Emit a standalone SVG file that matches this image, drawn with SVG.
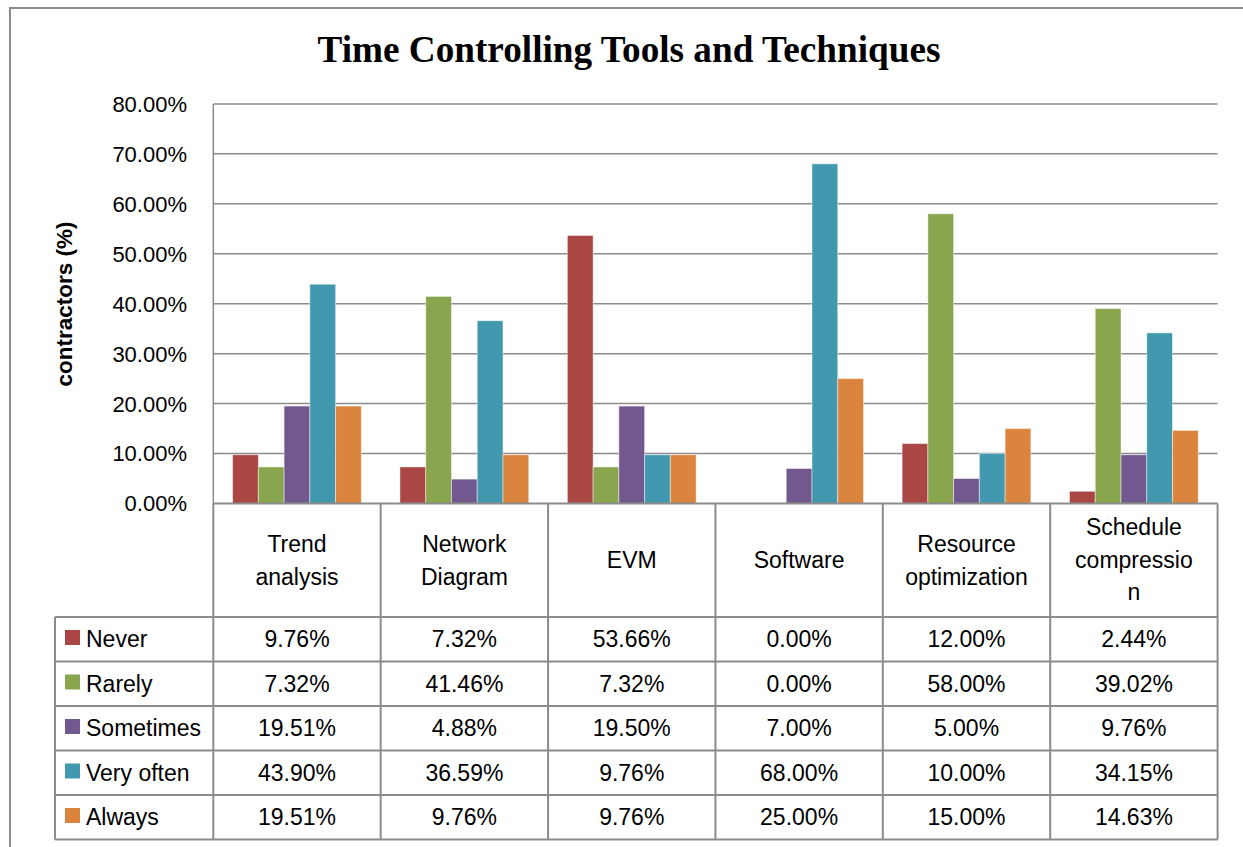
<svg xmlns="http://www.w3.org/2000/svg" width="1243" height="847" viewBox="0 0 1243 847">
<style>
.t{font-family:"Liberation Sans",Arial,sans-serif;font-size:23px;fill:#000}
.tk{font-size:22px}
.c{text-anchor:middle}
.r{text-anchor:end}
.grid{stroke:#8c8c8c;stroke-width:1.5;fill:none}
.tb{stroke:#8c8c8c;stroke-width:2;fill:none}
.b{stroke:#ffffff;stroke-opacity:0.45;stroke-width:1}
.n{fill:#AA4643}.ra{fill:#89A54E}.s{fill:#71588F}.v{fill:#4198AF}.a{fill:#DB843D}
</style>
<rect x="0" y="0" width="1243" height="847" fill="#ffffff"/>
<rect id="frame" x="10" y="8" width="1300" height="900" fill="none" stroke="#8c8c8c" stroke-width="2"/>
<text id="title" x="629" y="62" text-anchor="middle" style="font-family:'Liberation Serif','Times New Roman',serif;font-weight:bold;font-size:37.2px">Time Controlling Tools and Techniques</text>
<text id="ytitle" transform="translate(72,304) rotate(-90)" class="t c" style="font-weight:bold;font-size:22.5px">contractors (%)</text>
<g id="gridlines" class="grid">
<line x1="213.3" y1="103.9" x2="1217.6" y2="103.9"/>
<line x1="213.3" y1="153.85" x2="1217.6" y2="153.85"/>
<line x1="213.3" y1="203.8" x2="1217.6" y2="203.8"/>
<line x1="213.3" y1="253.75" x2="1217.6" y2="253.75"/>
<line x1="213.3" y1="303.7" x2="1217.6" y2="303.7"/>
<line x1="213.3" y1="353.65" x2="1217.6" y2="353.65"/>
<line x1="213.3" y1="403.6" x2="1217.6" y2="403.6"/>
<line x1="213.3" y1="453.55" x2="1217.6" y2="453.55"/>
<line x1="213.3" y1="103.9" x2="213.3" y2="503.5"/>
</g>
<g id="yticks" class="t tk r">
<text x="187" y="111.8">80.00%</text>
<text x="187" y="161.7">70.00%</text>
<text x="187" y="211.7">60.00%</text>
<text x="187" y="261.6">50.00%</text>
<text x="187" y="311.6">40.00%</text>
<text x="187" y="361.5">30.00%</text>
<text x="187" y="411.5">20.00%</text>
<text x="187" y="461.4">10.00%</text>
<text x="187" y="511.4">0.00%</text>
</g>
<g id="series-never" class="n b">
<rect x="232.6" y="454.75" width="25.75" height="48.75"/>
<rect x="399.98" y="466.94" width="25.75" height="36.56"/>
<rect x="567.36" y="235.47" width="25.75" height="268.03"/>
<rect x="902.12" y="443.56" width="25.75" height="59.94"/>
<rect x="1069.5" y="491.31" width="25.75" height="12.19"/>
</g>
<g id="series-rarely" class="ra b">
<rect x="258.35" y="466.94" width="25.75" height="36.56"/>
<rect x="425.73" y="296.41" width="25.75" height="207.09"/>
<rect x="593.11" y="466.94" width="25.75" height="36.56"/>
<rect x="927.87" y="213.79" width="25.75" height="289.71"/>
<rect x="1095.25" y="308.59" width="25.75" height="194.91"/>
</g>
<g id="series-sometimes" class="s b">
<rect x="284.1" y="406.05" width="25.75" height="97.45"/>
<rect x="451.48" y="479.12" width="25.75" height="24.38"/>
<rect x="618.86" y="406.1" width="25.75" height="97.4"/>
<rect x="786.24" y="468.53" width="25.75" height="34.97"/>
<rect x="953.62" y="478.52" width="25.75" height="24.98"/>
<rect x="1121.0" y="454.75" width="25.75" height="48.75"/>
</g>
<g id="series-veryoften" class="v b">
<rect x="309.85" y="284.22" width="25.75" height="219.28"/>
<rect x="477.23" y="320.73" width="25.75" height="182.77"/>
<rect x="644.61" y="454.75" width="25.75" height="48.75"/>
<rect x="811.99" y="163.84" width="25.75" height="339.66"/>
<rect x="979.37" y="453.55" width="25.75" height="49.95"/>
<rect x="1146.75" y="332.92" width="25.75" height="170.58"/>
</g>
<g id="series-always" class="a b">
<rect x="335.6" y="406.05" width="25.75" height="97.45"/>
<rect x="502.98" y="454.75" width="25.75" height="48.75"/>
<rect x="670.36" y="454.75" width="25.75" height="48.75"/>
<rect x="837.74" y="378.62" width="25.75" height="124.88"/>
<rect x="1005.12" y="428.57" width="25.75" height="74.93"/>
<rect x="1172.5" y="430.42" width="25.75" height="73.08"/>
</g>
<g id="table-lines" class="tb">
<line x1="213.3" y1="503.5" x2="1217.6" y2="503.5"/>
<line x1="55" y1="617" x2="1217.6" y2="617"/>
<line x1="55" y1="661.5" x2="1217.6" y2="661.5"/>
<line x1="55" y1="706" x2="1217.6" y2="706"/>
<line x1="55" y1="750.5" x2="1217.6" y2="750.5"/>
<line x1="55" y1="795" x2="1217.6" y2="795"/>
<line x1="55" y1="839.5" x2="1217.6" y2="839.5"/>
<line x1="55" y1="617" x2="55" y2="839.5"/>
<line x1="213.3" y1="503.5" x2="213.3" y2="839.5"/>
<line x1="380.68" y1="503.5" x2="380.68" y2="839.5"/>
<line x1="548.06" y1="503.5" x2="548.06" y2="839.5"/>
<line x1="715.44" y1="503.5" x2="715.44" y2="839.5"/>
<line x1="882.82" y1="503.5" x2="882.82" y2="839.5"/>
<line x1="1050.2" y1="503.5" x2="1050.2" y2="839.5"/>
<line x1="1217.6" y1="503.5" x2="1217.6" y2="839.5"/>
</g>
<g id="categories" class="t c">
<text x="297" y="552">Trend</text>
<text x="297" y="584.5">analysis</text>
<text x="464.4" y="552">Network</text>
<text x="464.4" y="584.5">Diagram</text>
<text x="631.75" y="568">EVM</text>
<text x="799.1" y="568">Software</text>
<text x="966.5" y="552">Resource</text>
<text x="966.5" y="584.5">optimization</text>
<text x="1133.9" y="535">Schedule</text>
<text x="1133.9" y="567.5">compressio</text>
<text x="1133.9" y="600">n</text>
</g>
<g id="legend" class="t">
<rect class="n" x="65" y="630" width="15" height="15"/>
<text x="86" y="647">Never</text>
<rect class="ra" x="65" y="674.5" width="15" height="15"/>
<text x="86" y="691.5">Rarely</text>
<rect class="s" x="65" y="719" width="15" height="15"/>
<text x="86" y="736">Sometimes</text>
<rect class="v" x="65" y="763.5" width="15" height="15"/>
<text x="86" y="780.5">Very often</text>
<rect class="a" x="65" y="808" width="15" height="15"/>
<text x="86" y="825">Always</text>
</g>
<g id="row-never" class="t c">
<text x="297" y="647">9.76%</text><text x="464.4" y="647">7.32%</text><text x="631.75" y="647">53.66%</text><text x="799.1" y="647">0.00%</text><text x="966.5" y="647">12.00%</text><text x="1133.9" y="647">2.44%</text>
</g>
<g id="row-rarely" class="t c">
<text x="297" y="691.5">7.32%</text><text x="464.4" y="691.5">41.46%</text><text x="631.75" y="691.5">7.32%</text><text x="799.1" y="691.5">0.00%</text><text x="966.5" y="691.5">58.00%</text><text x="1133.9" y="691.5">39.02%</text>
</g>
<g id="row-sometimes" class="t c">
<text x="297" y="736">19.51%</text><text x="464.4" y="736">4.88%</text><text x="631.75" y="736">19.50%</text><text x="799.1" y="736">7.00%</text><text x="966.5" y="736">5.00%</text><text x="1133.9" y="736">9.76%</text>
</g>
<g id="row-veryoften" class="t c">
<text x="297" y="780.5">43.90%</text><text x="464.4" y="780.5">36.59%</text><text x="631.75" y="780.5">9.76%</text><text x="799.1" y="780.5">68.00%</text><text x="966.5" y="780.5">10.00%</text><text x="1133.9" y="780.5">34.15%</text>
</g>
<g id="row-always" class="t c">
<text x="297" y="825">19.51%</text><text x="464.4" y="825">9.76%</text><text x="631.75" y="825">9.76%</text><text x="799.1" y="825">25.00%</text><text x="966.5" y="825">15.00%</text><text x="1133.9" y="825">14.63%</text>
</g>
</svg>
